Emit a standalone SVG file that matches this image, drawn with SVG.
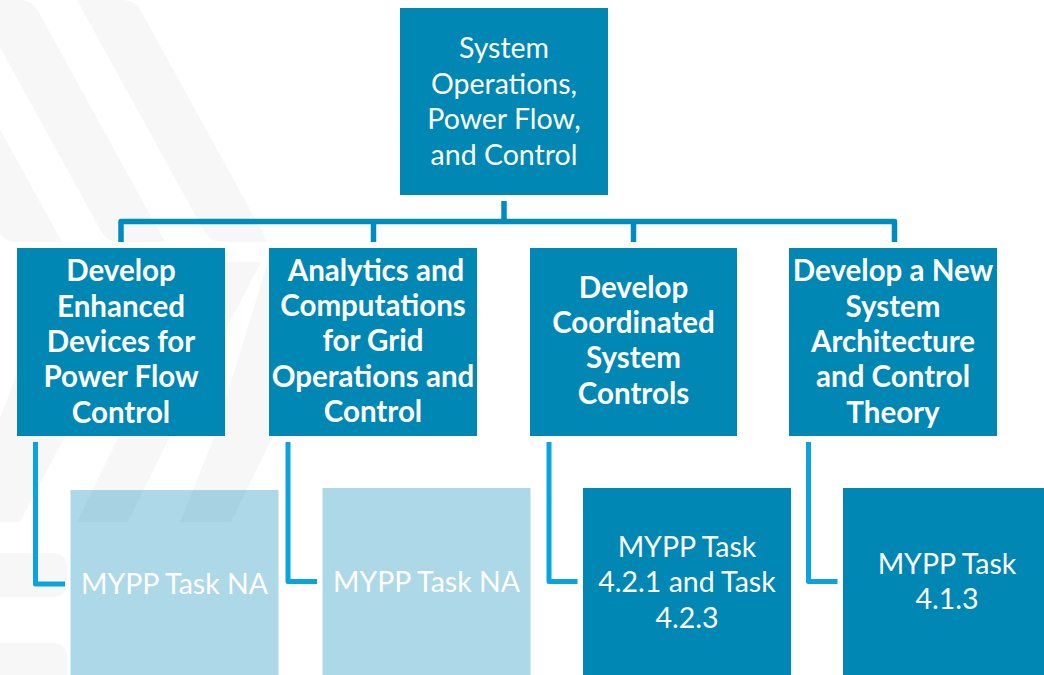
<svg xmlns="http://www.w3.org/2000/svg" width="1044" height="675" viewBox="0 0 1044 675">
  <style>
    .bg { fill: #F7F7F7; }
    .dark { fill: #0087B4; }
    .light { fill: #0087B4; fill-opacity: 0.32; }
    .t { font-family: Lato, "Liberation Sans", sans-serif; font-size: 28.5px; fill: #FFFFFF; text-anchor: middle; }
    .b { font-weight: bold; font-size: 29.5px; }
    .up { fill: none; stroke: #008DBD; stroke-width: 5.5; stroke-linejoin: round; stroke-linecap: butt; }
    .low { fill: none; stroke: #0AA3DB; stroke-width: 5; stroke-linejoin: round; stroke-linecap: butt; }
  </style>
  <rect width="1044" height="675" fill="#FFFFFF"/>
  <g id="background">
    <path class="bg" d="M -129 0 L -83 0 Q -71 0 -65 11 L 62 242 L 16 242 Q 4 242 -2 231 Z"/>
    <path class="bg" d="M -26 0 L 20 0 Q 32 0 38 11 L 165 242 L 119 242 Q 107 242 101 231 Z"/>
    <path class="bg" d="M 77 0 L 123 0 Q 135 0 141 11 L 268 242 L 222 242 Q 210 242 204 231 Z"/>
    <path class="bg" d="M 60 262 L 156 262 L 63 440 L 20 522 L 0 522 L -40 522 Z"/>
    <path class="bg" d="M 164 262 L 261 262 L 168 440 L 128 522 L 77 522 L 117 440 Z"/>
    <path class="bg" d="M 268 262 L 364 262 L 271 440 L 231 522 L 180 522 L 213 440 Z"/>
    <path class="bg" d="M -10 553 L 52 553 Q 67 553 67 568 L 67 582 Q 67 597 52 597 L -10 597 Z"/>
    <path class="bg" d="M -10 643 L 52 643 Q 67 643 67 658 L 67 680 L -10 680 Z"/>
  </g>
  <g id="connectors">
    <path class="up" d="M 504 201 L 504 221.5"/>
    <path class="up" d="M 121 242 L 121 221.5 L 894.5 221.5 L 894.5 242"/>
    <path class="up" d="M 373.5 221.5 L 373.5 242"/>
    <path class="up" d="M 633.5 221.5 L 633.5 242"/>
    <path class="low" d="M 35.5 442 L 35.5 584 L 65 584"/>
    <path class="low" d="M 288 442 L 288 581.5 L 317 581.5"/>
    <path class="low" d="M 549 442 L 549 581.5 L 577.5 581.5"/>
    <path class="low" d="M 808.5 442 L 808.5 581.5 L 837.5 581.5"/>
  </g>
  <g id="root">
    <rect class="dark" x="400" y="8" width="208" height="187"/>
    <text class="t" x="504" y="58">System</text>
    <text class="t" x="504" y="93.5">Operations,</text>
    <text class="t" x="504" y="129">Power Flow,</text>
    <text class="t" x="504" y="164.5">and Control</text>
  </g>
  <g id="n1">
    <rect class="dark" x="17" y="248" width="208" height="188"/>
    <text class="t b" x="121" y="281">Develop</text>
    <text class="t b" x="121" y="317">Enhanced</text>
    <text class="t b" x="121" y="352">Devices for</text>
    <text class="t b" x="121" y="387">Power Flow</text>
    <text class="t b" x="121" y="423">Control</text>
  </g>
  <g id="n2">
    <rect class="dark" x="269" y="248" width="208" height="188"/>
    <text class="t b" x="376" y="281">Analytics and</text>
    <text class="t b" x="373" y="316">Computations</text>
    <text class="t b" x="373" y="351">for Grid</text>
    <text class="t b" x="373" y="387">Operations and</text>
    <text class="t b" x="373" y="422">Control</text>
  </g>
  <g id="n3">
    <rect class="dark" x="530" y="248" width="207" height="188"/>
    <text class="t b" x="633.5" y="298">Develop</text>
    <text class="t b" x="633.5" y="333">Coordinated</text>
    <text class="t b" x="633.5" y="368">System</text>
    <text class="t b" x="633.5" y="404">Controls</text>
  </g>
  <g id="n4">
    <rect class="dark" x="789" y="248" width="208" height="188"/>
    <text class="t b" x="893" y="281">Develop a New</text>
    <text class="t b" x="893" y="317">System</text>
    <text class="t b" x="893" y="352">Architecture</text>
    <text class="t b" x="893" y="387">and Control</text>
    <text class="t b" x="893" y="423">Theory</text>
  </g>
  <g id="t1">
    <rect class="light" x="70.5" y="490" width="208" height="190"/>
    <text class="t" x="174.5" y="594">MYPP Task NA</text>
  </g>
  <g id="t2">
    <rect class="light" x="322.5" y="488" width="208" height="192"/>
    <text class="t" x="426.5" y="592">MYPP Task NA</text>
  </g>
  <g id="t3">
    <rect class="dark" x="583" y="488" width="208" height="192"/>
    <text class="t" x="687" y="557">MYPP Task</text>
    <text class="t" x="687" y="592">4.2.1 and Task</text>
    <text class="t" x="687" y="628">4.2.3</text>
  </g>
  <g id="t4">
    <rect class="dark" x="843" y="488" width="208" height="192"/>
    <text class="t" x="947" y="574">MYPP Task</text>
    <text class="t" x="947" y="609">4.1.3</text>
  </g>
</svg>
